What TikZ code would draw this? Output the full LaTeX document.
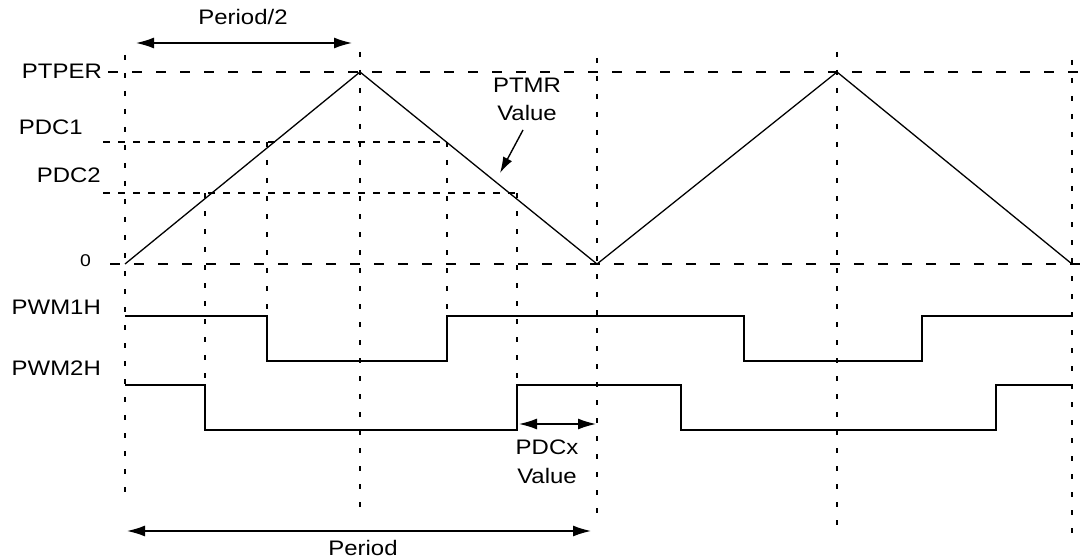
\documentclass[tikz,border=0pt]{standalone}
\usepackage{fontspec}
\setmainfont{Liberation Sans}[FakeStretch=1.14]
\usetikzlibrary{arrows.meta}
\begin{document}
\begin{tikzpicture}[x=1pt,y=-1pt,
  lbl/.style={font=\fontsize{21}{28}\selectfont, inner sep=0pt, align=center},
  wave/.style={line width=1.5pt, line join=miter},
  hdash/.style={line width=1.2pt, dash pattern=on 10pt off 14pt},
  pdash/.style={line width=1.6pt, dash pattern=on 7pt off 8pt},
  vdash/.style={line width=1.4pt, dash pattern=on 5pt off 13pt},
  dim/.style={line width=1.4pt, {Latex[length=18pt,width=11pt]}-{Latex[length=18pt,width=11pt]}},
  ptr/.style={line width=1.4pt, -{Latex[length=16pt,width=10pt]}}]
\useasboundingbox (0,0) rectangle (1082,559);
% coordinates
\coordinate (t0) at (125,264);
\coordinate (p1) at (360,72);
\coordinate (b1) at (597,264);
\coordinate (p2) at (837,72);
\coordinate (b2) at (1072,264);
% labels
\node[lbl, anchor=east] (lptper) at (102,71) {PTPER};
\node[lbl, anchor=east] (lpdc1) at (83,127) {PDC1};
\node[lbl, anchor=east] (lpdc2) at (101,175) {PDC2};
\node[lbl, anchor=east, font=\fontsize{17}{20}\selectfont] (lzero) at (91,261) {0};
\node[lbl, anchor=east] (lpwm1) at (101,307) {PWM1H};
\node[lbl, anchor=east] (lpwm2) at (101,368) {PWM2H};
\node[lbl] (lhalf) at (243,17) {Period/2};
\node[lbl] (lptmr) at (527,99) {PTMR\\Value};
\node[lbl, font=\fontsize{21}{29}\selectfont] (lpdcx) at (547,462) {PDCx\\Value};
\node[lbl] (lper) at (363,548) {Period};
% horizontal dashed levels
\draw[hdash] (108,72) -- (1082,72);
\draw[pdash] (103,142) -- (447,142);
\draw[pdash] (103,193) -- (517,193);
\draw[hdash] (110,264) -- (1082,264);
% vertical dashed
\draw[vdash] (125,55) -- (125,503);
\draw[vdash] (205,193) -- (205,405);
\draw[vdash] (267,142) -- (267,361);
\draw[vdash] (360,52) -- (360,508);
\draw[vdash] (447,142) -- (447,361);
\draw[vdash] (517,193) -- (517,385);
\draw[vdash] (597,58) -- (597,520);
\draw[vdash] (837,52) -- (837,530);
\draw[vdash] (1072,60) -- (1072,545);
% triangle
\draw[wave, line width=1.3pt] (t0) -- (p1) -- (b1) -- (p2) -- (b2);
% PWM waveforms
\draw[wave] (125,316) -- (267,316) -- (267,361) -- (447,361) -- (447,316) -- (744,316) -- (744,361) -- (922,361) -- (922,316) -- (1072,316);
\draw[wave] (125,385) -- (205,385) -- (205,430) -- (517,430) -- (517,385) -- (681,385) -- (681,430) -- (996,430) -- (996,385) -- (1072,385);
% dimension arrows
\coordinate (h1) at (136,43);
\coordinate (h2) at (352,43);
\draw[dim] (h1) -- (h2);
\coordinate (q1) at (127,531);
\coordinate (q2) at (591,531);
\draw[dim] (q1) -- (q2);
\coordinate (x1) at (519,424);
\coordinate (x2) at (596,424);
\draw[dim] (x1) -- (x2);
\coordinate (m1) at (523,130);
\coordinate (m2) at (500,173);
\draw[ptr] (m1) -- (m2);
\end{tikzpicture}
\end{document}
